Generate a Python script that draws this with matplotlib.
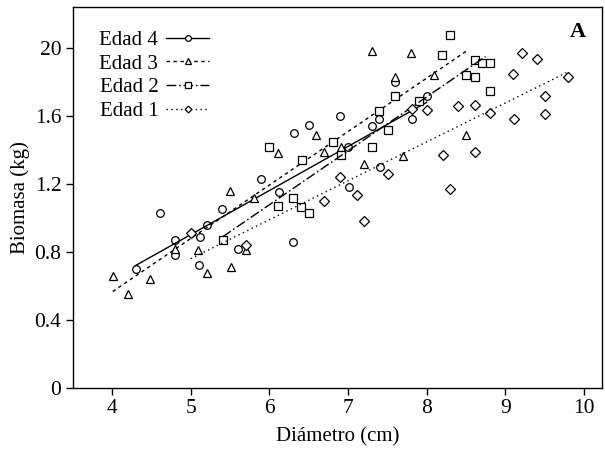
import matplotlib
matplotlib.use("Agg")
import matplotlib.pyplot as plt
from matplotlib.lines import Line2D

plt.rcParams['font.family'] = ['Liberation Serif', 'DejaVu Serif']

# Edad 4 (circulos)
x_e4 = [4.30, 4.61, 4.80, 4.80, 5.12, 5.11, 5.21, 5.40, 5.60, 5.90, 6.12, 6.30,
        6.31, 6.51, 6.90, 7.00, 7.01, 7.30, 7.40, 7.41, 7.60, 7.82, 8.01]
y_e4 = [0.70, 1.03, 0.87, 0.78, 0.89, 0.725, 0.96, 1.05, 0.82, 1.23, 1.15, 0.86,
        1.50, 1.55, 1.60, 1.42, 1.18, 1.54, 1.58, 1.30, 1.80, 1.58, 1.72]

# Edad 3 (triangulos)
x_e3 = [4.01, 4.21, 4.49, 4.80, 5.10, 5.21, 5.50, 5.51, 5.70, 5.80, 6.11,
        6.60, 6.70, 6.91, 7.21, 7.30, 7.60, 7.70, 7.80, 8.09, 8.50]
y_e3 = [0.66, 0.55, 0.64, 0.82, 0.81, 0.675, 1.16, 0.71, 0.81, 1.12, 1.38,
        1.49, 1.39, 1.42, 1.32, 1.98, 1.83, 1.365, 1.97, 1.84, 1.49]

# Edad 2 (cuadrados)
x_e2 = [5.41, 6.00, 6.11, 6.30, 6.40, 6.42, 6.51, 6.81, 6.91, 7.31, 7.40,
        7.51, 7.60, 7.91, 8.20, 8.30, 8.50, 8.61, 8.61, 8.70, 8.81, 8.81]
y_e2 = [0.87, 1.42, 1.07, 1.12, 1.065, 1.34, 1.03, 1.445, 1.37, 1.415, 1.63,
        1.52, 1.72, 1.69, 1.96, 2.075, 1.84, 1.93, 1.83, 1.91, 1.91, 1.75]

# Edad 1 (rombos)
x_e1 = [5.00, 5.70, 6.70, 6.90, 7.11, 7.20, 7.51, 7.81, 8.01, 8.21, 8.30,
        8.40, 8.61, 8.62, 8.81, 9.10, 9.11, 9.21, 9.40, 9.51, 9.51, 9.80]
y_e1 = [0.91, 0.84, 1.10, 1.24, 1.135, 0.98, 1.26, 1.64, 1.635, 1.37, 1.17,
        1.66, 1.665, 1.39, 1.615, 1.85, 1.58, 1.97, 1.935, 1.72, 1.61, 1.83]

# rectas de regresion (extremos)
fit_x_e4 = [4.30, 8.00]
fit_y_e4 = [0.72, 1.68]
fit_x_e3 = [4.01, 8.50]
fit_y_e3 = [0.567, 1.98]
fit_x_e2 = [5.41, 8.75]
fit_y_e2 = [0.89, 1.95]
fit_x_e1 = [5.00, 9.80]
fit_y_e1 = [0.76, 1.86]

labels = ["Edad 4", "Edad 3", "Edad 2", "Edad 1"]
yticks = [0, 0.4, 0.8, 1.2, 1.6, 2.0]
ytick_labels = ["0", "0.4", "0.8", "1.2", "1.6", "20"]
xticks = [4, 5, 6, 7, 8, 9, 10]

fig = plt.figure(figsize=(6.05, 4.5), dpi=100)
ax = fig.add_axes([0.120, 0.138, 0.875, 0.847])

series = [
    (x_e4, y_e4, fit_x_e4, fit_y_e4, 'o', '-'),
    (x_e3, y_e3, fit_x_e3, fit_y_e3, '^', (0, (2.5, 2.5))),
    (x_e2, y_e2, fit_x_e2, fit_y_e2, 's', (0, (7, 2, 1.2, 2))),
    (x_e1, y_e1, fit_x_e1, fit_y_e1, 'D', (0, (1, 2.5))),
]
msize = {'o': 5.5, '^': 5.5, 's': 5.2, 'D': 4.6}

handles = []
for (xs, ys, fx, fy, mk, ls), lab in zip(series, labels):
    ax.plot(xs, ys, linestyle='none', marker=mk, ms=msize[mk], mfc='white',
            mec='black', mew=0.9)
    ax.plot(fx, fy, color='black', lw=1.0, linestyle=ls)
    handles.append(Line2D([], [], color='black', lw=1.0, linestyle=ls,
                          marker=mk, ms=msize[mk] * 0.75, mfc='white',
                          mec='black', mew=0.9, label=lab))

ax.set_xlim(3.5, 10.23)
ax.set_ylim(0, 2.243)
ax.set_xticks(xticks)
ax.set_yticks(yticks)
ax.set_yticklabels(ytick_labels)
ax.tick_params(direction='out', length=5, width=1, labelsize=15.5, pad=3)
for sp in ax.spines.values():
    sp.set_linewidth(1.0)

ax.set_xlabel("Diámetro (cm)", fontsize=15, labelpad=7)
ax.set_ylabel("Biomasa (kg)", fontsize=15, labelpad=3)

ax.legend(handles=handles, loc='upper left', frameon=False, markerfirst=False,
          fontsize=15, handlelength=2.1, handletextpad=0.35, labelspacing=0.2,
          borderaxespad=0.0, bbox_to_anchor=(0.035, 0.96), numpoints=1)

ax.text(0.955, 0.935, "A", transform=ax.transAxes, fontsize=16,
        fontweight='bold', ha='center', va='center')

fig.savefig("out.png", dpi=100)
